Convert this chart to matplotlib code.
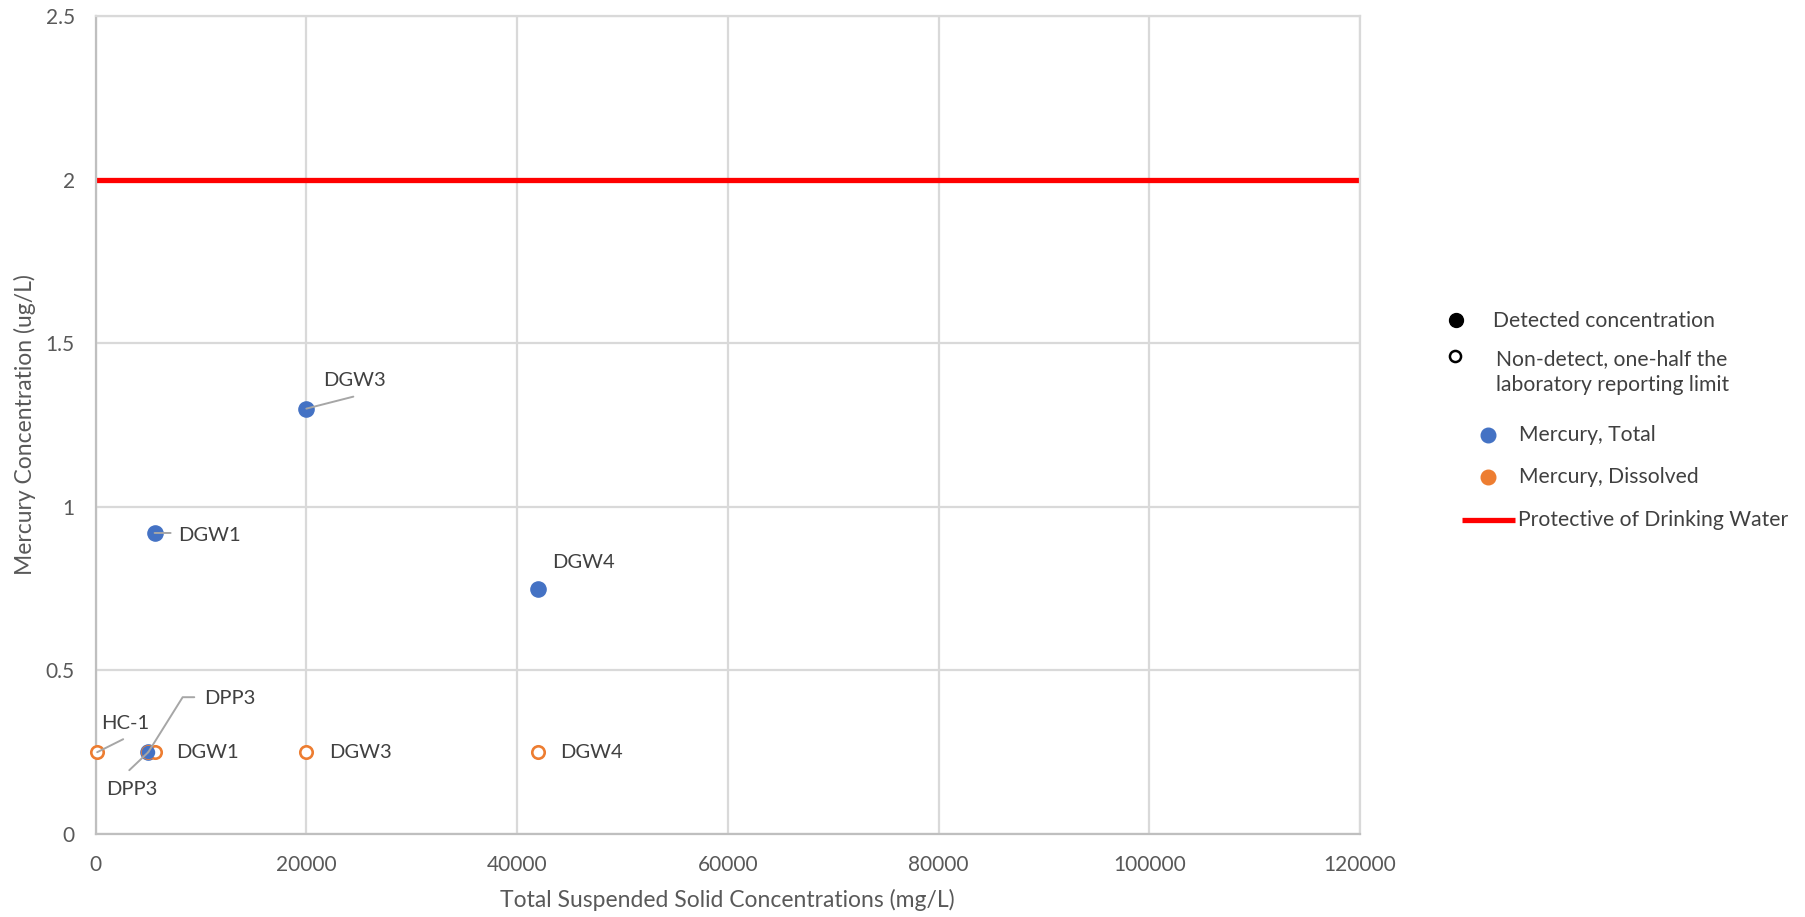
import matplotlib
matplotlib.use("Agg")
import matplotlib.pyplot as plt
from matplotlib.lines import Line2D

plt.rcParams['font.family'] = ['Lato', 'DejaVu Sans']

# ---- data ----
total_names = ['DGW1', 'DGW3', 'DGW4', 'DPP3']
total_tss = [5600, 20000, 42000, 5000]
total_hg = [0.92, 1.30, 0.75, 0.25]

dissolved_names = ['HC-1', 'DPP3', 'DGW1', 'DGW3', 'DGW4']
dissolved_tss = [150, 5000, 5600, 20000, 42000]
dissolved_hg = [0.25, 0.25, 0.25, 0.25, 0.25]

limit_tss = [0, 120000]
limit_hg = [2.0, 2.0]

x_ticks = [0, 20000, 40000, 60000, 80000, 100000, 120000]
y_ticks = [0, 0.5, 1, 1.5, 2, 2.5]

BLUE = '#4472C4'
ORANGE = '#ED7D31'
RED = '#FF0000'
GRID = '#D9D9D9'
TICK_TXT = '#595959'
LBL_TXT = '#404040'
LEADER = '#A6A6A6'

W, H = 1806, 917
fig = plt.figure(figsize=(W / 100, H / 100), dpi=100)
ax = fig.add_axes([95.6 / W, 1 - 834 / H, (1360 - 95.6) / W, (834 - 16) / H])

ax.set_xlim(0, 120000)
ax.set_ylim(0, 2.5)
ax.set_xticks(x_ticks)
ax.set_yticks(y_ticks)
ax.set_xticklabels([str(t) for t in x_ticks])
ax.set_yticklabels(['0', '0.5', '1', '1.5', '2', '2.5'])
ax.tick_params(length=0, labelsize=15, labelcolor=TICK_TXT)
ax.tick_params(axis='x', pad=15)
ax.tick_params(axis='y', pad=15)
ax.grid(True, color=GRID, linewidth=1.6)
ax.set_axisbelow(True)
for s in ax.spines.values():
    s.set_color(GRID)
    s.set_linewidth(1.6)
ax.spines['left'].set_color('#BFBFBF')
ax.spines['bottom'].set_color('#BFBFBF')

ax.set_xlabel('Total Suspended Solid Concentrations (mg/L)', fontsize=16.5, color=TICK_TXT, labelpad=10)
ax.set_ylabel('Mercury Concentration (ug/L)', fontsize=16.5, color=TICK_TXT, labelpad=7)

# protective limit line
ax.plot(limit_tss, limit_hg, color=RED, linewidth=3.8, solid_capstyle='butt', zorder=2)

# points
ax.scatter(total_tss, total_hg, s=120, color=BLUE, zorder=3, clip_on=False)
ax.scatter(dissolved_tss, dissolved_hg, s=80, facecolors='white', edgecolors=ORANGE,
           linewidths=1.9, zorder=4, clip_on=False)
# DPP3 total sits under the dissolved ring; redraw it filled inside the ring
ax.scatter([total_tss[3]], [total_hg[3]], s=75, color=BLUE, zorder=5, clip_on=False)


def label(x, y, text, dx, dy):
    ax.annotate(text, xy=(x, y), xytext=(dx, dy), textcoords='offset pixels',
                ha='left', va='center', fontsize=14.5, color=LBL_TXT, zorder=6)


def leader(x, y, dx, dy, conn='arc3'):
    ax.annotate('', xy=(x, y), xytext=(dx, dy), textcoords='offset pixels',
                arrowprops=dict(arrowstyle='-', color=LEADER, lw=1.4,
                                shrinkA=0, shrinkB=0, connectionstyle=conn),
                zorder=5)


# total labels
label(total_tss[0], total_hg[0], 'DGW1', 24, -3)
leader(total_tss[0], total_hg[0], 16, 0)
label(total_tss[1], total_hg[1], 'DGW3', 17, 28)
leader(total_tss[1], total_hg[1], 47, 12)
label(total_tss[2], total_hg[2], 'DGW4', 14, 26)
label(total_tss[3], total_hg[3], 'DPP3', -42, -37)
leader(total_tss[3], total_hg[3], -19, -18)

# dissolved labels
label(dissolved_tss[0], dissolved_hg[0], 'HC-1', 4, 29)
leader(dissolved_tss[0], dissolved_hg[0], 26, 13)
label(dissolved_tss[1], dissolved_hg[1], 'DPP3', 56, 54)
leader(dissolved_tss[1], dissolved_hg[1], 46, 55, 'angle,angleA=0,angleB=58,rad=0')
label(dissolved_tss[2], dissolved_hg[2], 'DGW1', 22, 0)
label(dissolved_tss[3], dissolved_hg[3], 'DGW3', 23, 0)
label(dissolved_tss[4], dissolved_hg[4], 'DGW4', 22, 0)


# ---- legend (figure pixel layout) ----
def fx(x):
    return x / W


def fy(y):
    return 1 - y / H


LEG_FS = 15.2
fig.add_artist(Line2D([fx(1456)], [fy(320)], marker='o', markersize=10, color='black',
                      linestyle='none'))
fig.text(fx(1493), fy(321), 'Detected concentration', fontsize=LEG_FS, color=LBL_TXT, va='center')
fig.add_artist(Line2D([fx(1455)], [fy(356)], marker='o', markersize=8, markerfacecolor='white',
                      markeredgecolor='black', markeredgewidth=1.8, linestyle='none'))
fig.text(fx(1496), fy(372), 'Non-detect, one-half the\nlaboratory reporting limit', fontsize=LEG_FS,
         color=LBL_TXT, va='center', linespacing=1.35)
fig.add_artist(Line2D([fx(1488)], [fy(435)], marker='o', markersize=10.5, color=BLUE,
                      linestyle='none'))
fig.text(fx(1519), fy(435), 'Mercury, Total', fontsize=LEG_FS, color=LBL_TXT, va='center')
fig.add_artist(Line2D([fx(1488)], [fy(477)], marker='o', markersize=10.5, color=ORANGE,
                      linestyle='none'))
fig.text(fx(1519), fy(477), 'Mercury, Dissolved', fontsize=LEG_FS, color=LBL_TXT, va='center')
fig.add_artist(Line2D([fx(1462), fx(1515)], [fy(520), fy(520)], color=RED, linewidth=3.8,
                      solid_capstyle='butt'))
fig.text(fx(1518), fy(520), 'Protective of Drinking Water', fontsize=LEG_FS, color=LBL_TXT, va='center')

fig.savefig('out.png', dpi=100, facecolor='white')
